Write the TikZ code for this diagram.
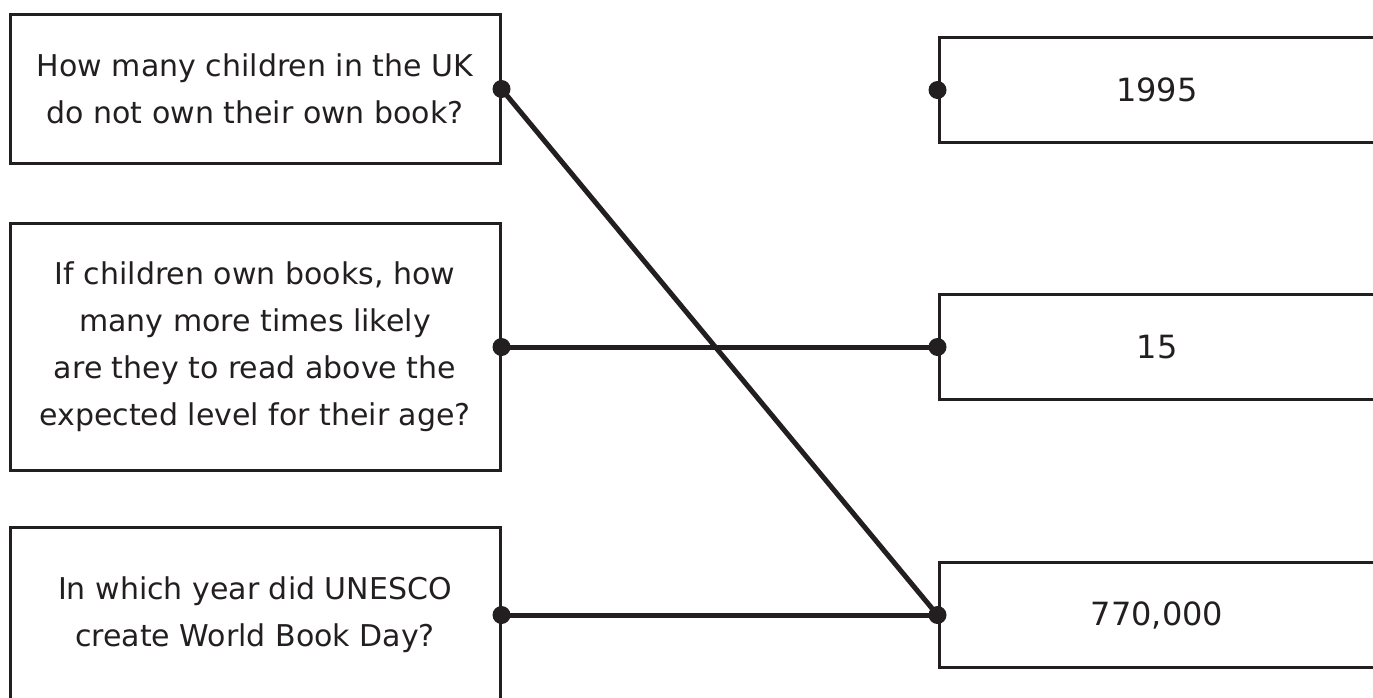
\documentclass[tikz,border=0pt]{standalone}
\usepackage{fontspec}
\setmainfont{DejaVu Sans}
\definecolor{ink}{HTML}{231F20}
\begin{document}
\begin{tikzpicture}[x=1pt, y=-1pt,
    question/.style={rectangle, draw=ink, line width=3pt, minimum width=490pt, align=center, text=ink, inner sep=0pt, font=\fontsize{30}{47}\selectfont},
    answer/.style={rectangle, draw=ink, line width=3pt, minimum width=436pt, minimum height=105pt, text=ink, font=\fontsize{32}{40}\selectfont},
    link/.style={draw=ink, line width=5pt},
    dot/.style={circle, fill=ink, inner sep=0pt, minimum size=18pt}]
        \useasboundingbox (0,0) rectangle (1373,697);
        \clip (0,0) rectangle (1373,697);
        % questions on the left
        \node[question, minimum height=149pt] (q1) at (255, 89) {How many children in the UK\\do not own their own book?};
        \node[question, minimum height=247pt] (q2) at (255, 347) {If children own books, how\\many more times likely\\are they to read above the\\expected level for their age?};
        \node[question, minimum height=176pt] (q3) at (255, 615) {In which year did UNESCO\\create World Book Day?};
        % answers on the right
        \node[answer] (a1) at (1157, 90) {1995};
        \node[answer] (a2) at (1157, 347) {15};
        \node[answer] (a3) at (1157, 615) {770,000};
        % matching lines
        \draw[link] (q1.east) -- (a3.west);
        \draw[link] (q2.east) -- (a2.west);
        \draw[link] (q3.east) -- (a3.west);
        % dots
        \node[dot] (dq1) at (q1.east) {};
        \node[dot] (dq2) at (q2.east) {};
        \node[dot] (dq3) at (q3.east) {};
        \node[dot] (da1) at (a1.west) {};
        \node[dot] (da2) at (a2.west) {};
        \node[dot] (da3) at (a3.west) {};
    \end{tikzpicture}
\end{document}
